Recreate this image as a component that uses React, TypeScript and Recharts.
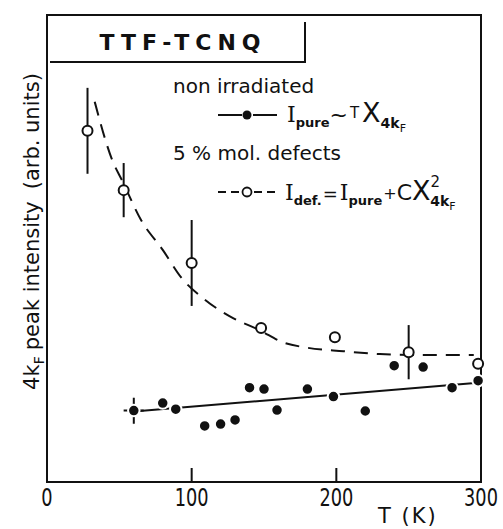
import {
  ComposedChart,
  ErrorBar,
  Label,
  Legend,
  Line,
  ReferenceArea,
  Scatter,
  XAxis,
  YAxis,
} from "recharts";

const INK = "#111";
const FONT = "'DejaVu Sans', 'Liberation Sans', sans-serif";

// the chart fills the whole page
document.body.style.margin = "0";

const xTicks = [0, 100, 200, 300];

// 5% mol. defects (open circles)
const defectT = [28, 53, 100, 148, 199, 250, 298];
const defectI = [75.2, 62.5, 46.9, 33.0, 31.0, 27.8, 25.3];
const defectErr = [9.2, 5.8, 9.2, 0, 0, 5.8, 0];

// fitted I_def curve (dashed)
const defFitT = [33, 45, 52.5, 65, 80, 93, 108.5, 128.6, 147, 163, 179, 205, 230, 258, 295];
const defFitI = [81.4, 69.0, 64.2, 56.1, 49.7, 43.7, 39.2, 35.1, 32.5, 29.9, 28.8, 28.0, 27.4, 27.2, 27.2];

// non irradiated (filled circles)
const pureT = [80, 89, 109, 120, 130, 140, 150, 159, 180, 198, 220, 240, 260, 280, 298];
const pureI = [16.9, 15.6, 12.0, 12.4, 13.3, 20.2, 19.9, 15.4, 19.9, 18.3, 15.2, 24.9, 24.6, 20.2, 21.7];

// lowest-T pure point carries a dashed error cross
const pureCrossT = 60;
const pureCrossI = 15.3;
const pureCrossErrI = 2.8;
const pureCrossErrT = 7;

// I_pure ~ T chi fit (straight line)
const pureFitT = [60, 300];
const pureFitI = [15.1, 21.3];

const defectPoints = defectT.map((T, i) => ({ T, I: defectI[i], err: defectErr[i] }));
const defFit = defFitT.map((T, i) => ({ T, I: defFitI[i] }));
const purePoints = pureT.map((T, i) => ({ T, I: pureI[i] }));
const pureCross = [{ T: pureCrossT, I: pureCrossI, errI: pureCrossErrI, errT: pureCrossErrT }];
const pureFit = pureFitT.map((T, i) => ({ T, I: pureFitI[i] }));

const OpenDot = (p: any) => (
  <circle cx={p.cx} cy={p.cy} r={5} fill="#fff" stroke={INK} strokeWidth={2} />
);

const FilledDot = (p: any) => (
  <circle cx={p.cx} cy={p.cy} r={5.75} fill={INK} stroke="#fff" strokeWidth={2} />
);

// tick marks point inwards; digits are drawn narrow
const XTick = (props: any) => {
  const { x, y, payload } = props;
  const v = payload.value;
  return (
    <g>
      {v > 0 && v < 300 && (
        <line x1={x} x2={x} y1={y} y2={y - 14} stroke={INK} strokeWidth={2} />
      )}
      <text
        transform={`translate(${x} ${y + 24}) scale(0.74 1)`}
        textAnchor="middle"
        fontFamily={FONT}
        fontSize={24}
        fill={INK}
      >
        {v}
      </text>
    </g>
  );
};

const YTitle = (props: any) => {
  const vb = props.viewBox;
  const cx = vb.x + 39;
  const cy = vb.y + vb.height / 2 - 17;
  return (
    <text
      transform={`translate(${cx} ${cy}) rotate(-90)`}
      textAnchor="middle"
      fontFamily={FONT}
      fontSize={21}
      fill={INK}
    >
      4k<tspan fontSize={14} dy={5}>F</tspan>
      <tspan dy={-5} dx={6}>peak intensity</tspan>
      <tspan dx={12}>(arb. units)</tspan>
    </text>
  );
};

const XTitle = (props: any) => {
  const vb = props.viewBox;
  return (
    <text
      x={vb.x + vb.width - 103}
      y={vb.y + 41}
      fontFamily={FONT}
      fontSize={21}
      letterSpacing={2}
      fill={INK}
    >
      T (K)
    </text>
  );
};

// title box + legend, drawn in one svg over the upper part of the plot
const HeaderLegend = () => (
  <svg width={434} height={205} style={{ overflow: "visible" }}>
    <path d="M3 47 H258 V7" fill="none" stroke={INK} strokeWidth={2} />
    <text
      x={136}
      y={35}
      textAnchor="middle"
      fontFamily={FONT}
      fontWeight="bold"
      fontSize={22}
      letterSpacing={6}
      fill={INK}
    >
      TTF-TCNQ
    </text>

    <text x={126} y={78} fontFamily={FONT} fontSize={20} fill={INK}>
      non irradiated
    </text>
    <line x1={171} x2={195} y1={100} y2={100} stroke={INK} strokeWidth={2} />
    <circle cx={200} cy={100} r={4.5} fill={INK} />
    <line x1={206} x2={230} y1={100} y2={100} stroke={INK} strokeWidth={2} />
    <text x={240} y={107} fontFamily={FONT} fontSize={22} fill={INK}>
      <tspan fontFamily="'DejaVu Serif', serif">I</tspan>
      <tspan fontSize={13} fontWeight="bold" dy={5}>pure</tspan>
      <tspan fontSize={22} dy={-5}>~</tspan>
      <tspan fontSize={15} dy={-4} dx={2}>T</tspan>
      <tspan fontSize={27} dy={4} dx={3}>X</tspan>
      <tspan fontSize={14} fontWeight="bold" dy={6}>4k</tspan>
      <tspan fontSize={11} dy={4}>F</tspan>
    </text>

    <text x={126} y={145} fontFamily={FONT} fontSize={20} fill={INK}>
      5 % mol. defects
    </text>
    <line x1={171} x2={193} y1={177} y2={177} stroke={INK} strokeWidth={2} strokeDasharray="8 5" />
    <circle cx={200} cy={177} r={4.5} fill="#fff" stroke={INK} strokeWidth={1.8} />
    <line x1={207} x2={229} y1={177} y2={177} stroke={INK} strokeWidth={2} strokeDasharray="8 5" />
    <text x={238} y={185} fontFamily={FONT} fontSize={22} fill={INK}>
      <tspan fontFamily="'DejaVu Serif', serif">I</tspan>
      <tspan fontSize={13} fontWeight="bold" dy={5}>def.</tspan>
      <tspan fontSize={18} dy={-5} dx={1}>=</tspan>
      <tspan fontFamily="'DejaVu Serif', serif" dx={2}>I</tspan>
      <tspan fontSize={13} fontWeight="bold" dy={5}>pure</tspan>
      <tspan fontSize={16} dy={-6} dx={1}>+</tspan>
      <tspan fontSize={22} dy={1}>C</tspan>
      <tspan fontSize={27}>X</tspan>
      <tspan fontSize={15} dy={-13}>2</tspan>
      <tspan fontSize={14} fontWeight="bold" dy={19} dx={-10}>4k</tspan>
      <tspan fontSize={11} dy={4}>F</tspan>
    </text>
  </svg>
);

export default function App() {
  return (
    <div style={{ width: 503, height: 529, background: "#fff" }}>
      <ComposedChart
        width={503}
        height={529}
        margin={{ top: 15, right: 22, bottom: 0, left: 0 }}
      >
        <XAxis
          dataKey="T"
          type="number"
          domain={[0, 300]}
          ticks={xTicks}
          axisLine={false}
          tickLine={false}
          tickSize={0}
          tickMargin={0}
          tick={<XTick />}
          height={47}
        >
          <Label content={XTitle} />
        </XAxis>
        <YAxis
          dataKey="I"
          type="number"
          domain={[0, 100]}
          width={47}
          axisLine={false}
          tickLine={false}
          tick={false}
          allowDataOverflow
        >
          <Label content={YTitle} />
        </YAxis>
        <ReferenceArea
          x1={0}
          x2={300}
          y1={0}
          y2={100}
          fill="none"
          stroke={INK}
          strokeWidth={2}
        />
        <Legend
          layout="vertical"
          verticalAlign="middle"
          align="center"
          content={<HeaderLegend />}
          wrapperStyle={{ left: 47, top: 15, width: 434, height: 205 }}
        />
        <Line
          data={defFit}
          dataKey="I"
          type="monotone"
          stroke={INK}
          strokeWidth={2}
          strokeDasharray="14 9"
          dot={false}
          activeDot={false}
          isAnimationActive={false}
        />
        <Line
          data={pureFit}
          dataKey="I"
          type="linear"
          stroke={INK}
          strokeWidth={2}
          dot={false}
          activeDot={false}
          isAnimationActive={false}
        />
        <Scatter data={defectPoints} dataKey="I" shape={OpenDot} isAnimationActive={false}>
          <ErrorBar dataKey="err" direction="y" width={0} stroke={INK} strokeWidth={2} />
        </Scatter>
        <Scatter data={purePoints} dataKey="I" shape={FilledDot} isAnimationActive={false} />
        <Scatter data={pureCross} dataKey="I" shape={FilledDot} isAnimationActive={false}>
          <ErrorBar
            dataKey="errI"
            direction="y"
            width={0}
            stroke={INK}
            strokeWidth={2}
            strokeDasharray="8 10"
          />
          <ErrorBar
            dataKey="errT"
            direction="x"
            width={0}
            stroke={INK}
            strokeWidth={2}
            strokeDasharray="6 8"
          />
        </Scatter>
      </ComposedChart>
    </div>
  );
}
